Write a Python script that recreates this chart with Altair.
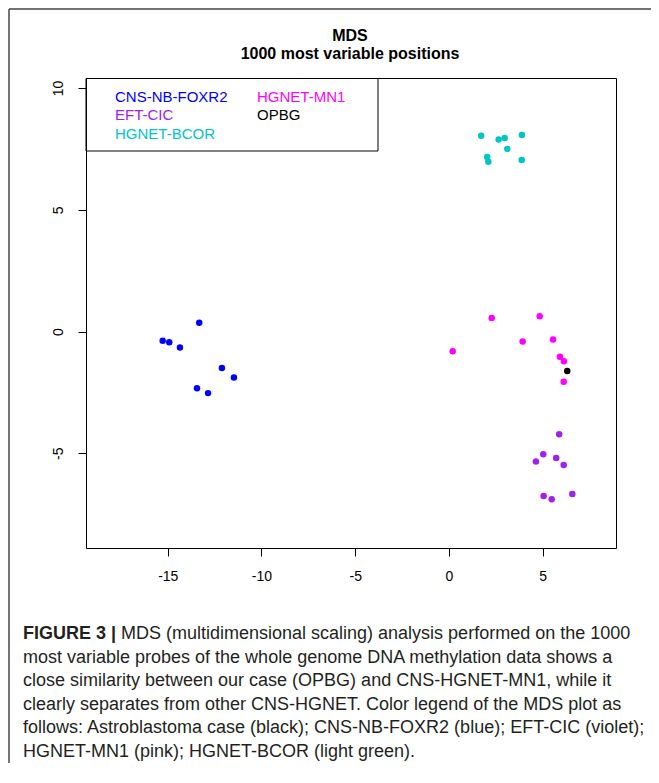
import altair as alt
import pandas as pd

# ---- data ----
GROUPS = ["CNS-NB-FOXR2", "EFT-CIC", "HGNET-BCOR", "HGNET-MN1", "OPBG"]
COLORS = ["#0000FF", "#A020F0", "#00C5C5", "#FF00FF", "#000000"]

foxr2_x = [-15.27, -14.92, -14.35, -13.32, -12.11, -11.47, -13.44, -12.85]
foxr2_y = [-0.38, -0.44, -0.66, 0.36, -1.50, -1.89, -2.33, -2.53]

bcor_x = [1.72, 2.65, 2.97, 3.89, 3.11, 2.04, 2.10, 3.88]
bcor_y = [8.04, 7.88, 7.95, 8.07, 7.50, 7.17, 6.97, 7.04]

mn1_x = [0.20, 2.28, 4.84, 3.93, 5.55, 5.92, 6.13, 6.12]
mn1_y = [-0.81, 0.55, 0.63, -0.41, -0.33, -1.04, -1.22, -2.06]

cic_x = [5.88, 5.03, 4.64, 5.72, 6.12, 5.05, 5.48, 6.58]
cic_y = [-4.22, -5.04, -5.34, -5.19, -5.48, -6.75, -6.89, -6.67]

opbg_x = [6.31]
opbg_y = [-1.62]

X_TICKS = [-15, -10, -5, 0, 5]
Y_TICKS = [-5, 0, 5, 10]

TITLE_LINES = ["MDS", "1000 most variable positions"]
CAPTION_BOLD = "FIGURE 3 |"
CAPTION_FIRST = "MDS (multidimensional scaling) analysis performed on the 1000"
CAPTION_REST = [
    "most variable probes of the whole genome DNA methylation data shows a",
    "close similarity between our case (OPBG) and CNS-HGNET-MN1, while it",
    "clearly separates from other CNS-HGNET. Color legend of the MDS plot as",
    "follows: Astroblastoma case (black); CNS-NB-FOXR2 (blue); EFT-CIC (violet);",
    "HGNET-MN1 (pink); HGNET-BCOR (light green).",
]

rows = []
for g, xs, ys in [
    ("CNS-NB-FOXR2", foxr2_x, foxr2_y),
    ("HGNET-BCOR", bcor_x, bcor_y),
    ("HGNET-MN1", mn1_x, mn1_y),
    ("EFT-CIC", cic_x, cic_y),
    ("OPBG", opbg_x, opbg_y),
]:
    for a, b in zip(xs, ys):
        rows.append({"x": a, "y": b, "group": g})
df = pd.DataFrame(rows)

W, H = 530, 470
FONT = "Liberation Sans"

points = alt.Chart(df).mark_circle(size=42, opacity=1).encode(
    x=alt.X("x:Q", scale=alt.Scale(domain=[-19.36, 8.91], nice=False, zero=False),
            axis=alt.Axis(values=X_TICKS, title=None, labelPadding=20, labelBaseline="middle",
                          labelExpr="toString(datum.value)")),
    y=alt.Y("y:Q", scale=alt.Scale(domain=[-8.89, 10.41], nice=False, zero=False),
            axis=alt.Axis(values=Y_TICKS, title=None, labelAngle=270, labelAlign="center",
                          labelBaseline="middle", labelPadding=20,
                          labelExpr="toString(datum.value)")),
    color=alt.Color("group:N", scale=alt.Scale(domain=GROUPS, range=COLORS), legend=None),
)

one = pd.DataFrame({"k": [0]})
layers = [points]

# legend box and entries
layers.append(alt.Chart(one).mark_rect(fillOpacity=0, stroke="black", strokeWidth=1).encode(
    x=alt.value(0), x2=alt.value(292), y=alt.value(0.5), y2=alt.value(73)))
legend_pos = {
    "CNS-NB-FOXR2": (29, 18.5), "EFT-CIC": (29, 37), "HGNET-BCOR": (29, 55.5),
    "HGNET-MN1": (171, 18.5), "OPBG": (171, 37),
}
for g, c in zip(GROUPS, COLORS):
    lx, ly = legend_pos[g]
    layers.append(alt.Chart(one).mark_text(text=g, color=c, font=FONT, fontSize=15,
                                           align="left", baseline="middle").encode(
        x=alt.value(lx), y=alt.value(ly)))

# title
for i, t in enumerate(TITLE_LINES):
    layers.append(alt.Chart(one).mark_text(text=t, font=FONT, fontSize=16, fontWeight="bold",
                                           align="center", baseline="middle", color="black").encode(
        x=alt.value(264), y=alt.value(-42 + 17.5 * i)))

# caption
CAP_COLOR = "#231f20"
layers.append(alt.Chart(one).mark_text(text=CAPTION_BOLD, font=FONT, fontSize=18, fontWeight="bold",
                                       align="left", baseline="middle", color=CAP_COLOR).encode(
    x=alt.value(-63), y=alt.value(556)))
layers.append(alt.Chart(one).mark_text(text=CAPTION_FIRST, font=FONT, fontSize=18,
                                       align="left", baseline="middle", color=CAP_COLOR).encode(
    x=alt.value(35), y=alt.value(556)))
for i, t in enumerate(CAPTION_REST):
    layers.append(alt.Chart(one).mark_text(text=t, font=FONT, fontSize=18,
                                           align="left", baseline="middle", color=CAP_COLOR).encode(
        x=alt.value(-63), y=alt.value(579.5 + 23.5 * i)))

# outer frame (partial, as in the figure crop)
layers.append(alt.Chart(one).mark_rule(color="#444", strokeWidth=1.5).encode(
    x=alt.value(-77), y=alt.value(-69), y2=alt.value(H + 215)))
layers.append(alt.Chart(one).mark_rule(color="#444", strokeWidth=1.5).encode(
    x=alt.value(-77), x2=alt.value(W + 35), y=alt.value(-69)))

chart = alt.layer(*layers).properties(
    width=W, height=H,
    autosize=alt.AutoSizeParams(type="none"),
    padding={"left": 78, "top": 70, "right": 35, "bottom": 215},
    background="white",
).configure_view(stroke="black", strokeWidth=1).configure_axis(
    grid=False, domain=False, tickColor="black", tickSize=8, tickWidth=1,
    labelFont=FONT, labelFontSize=14, labelColor="black",
)

chart.save("out.html", embed_options={"renderer": "svg", "actions": False})
